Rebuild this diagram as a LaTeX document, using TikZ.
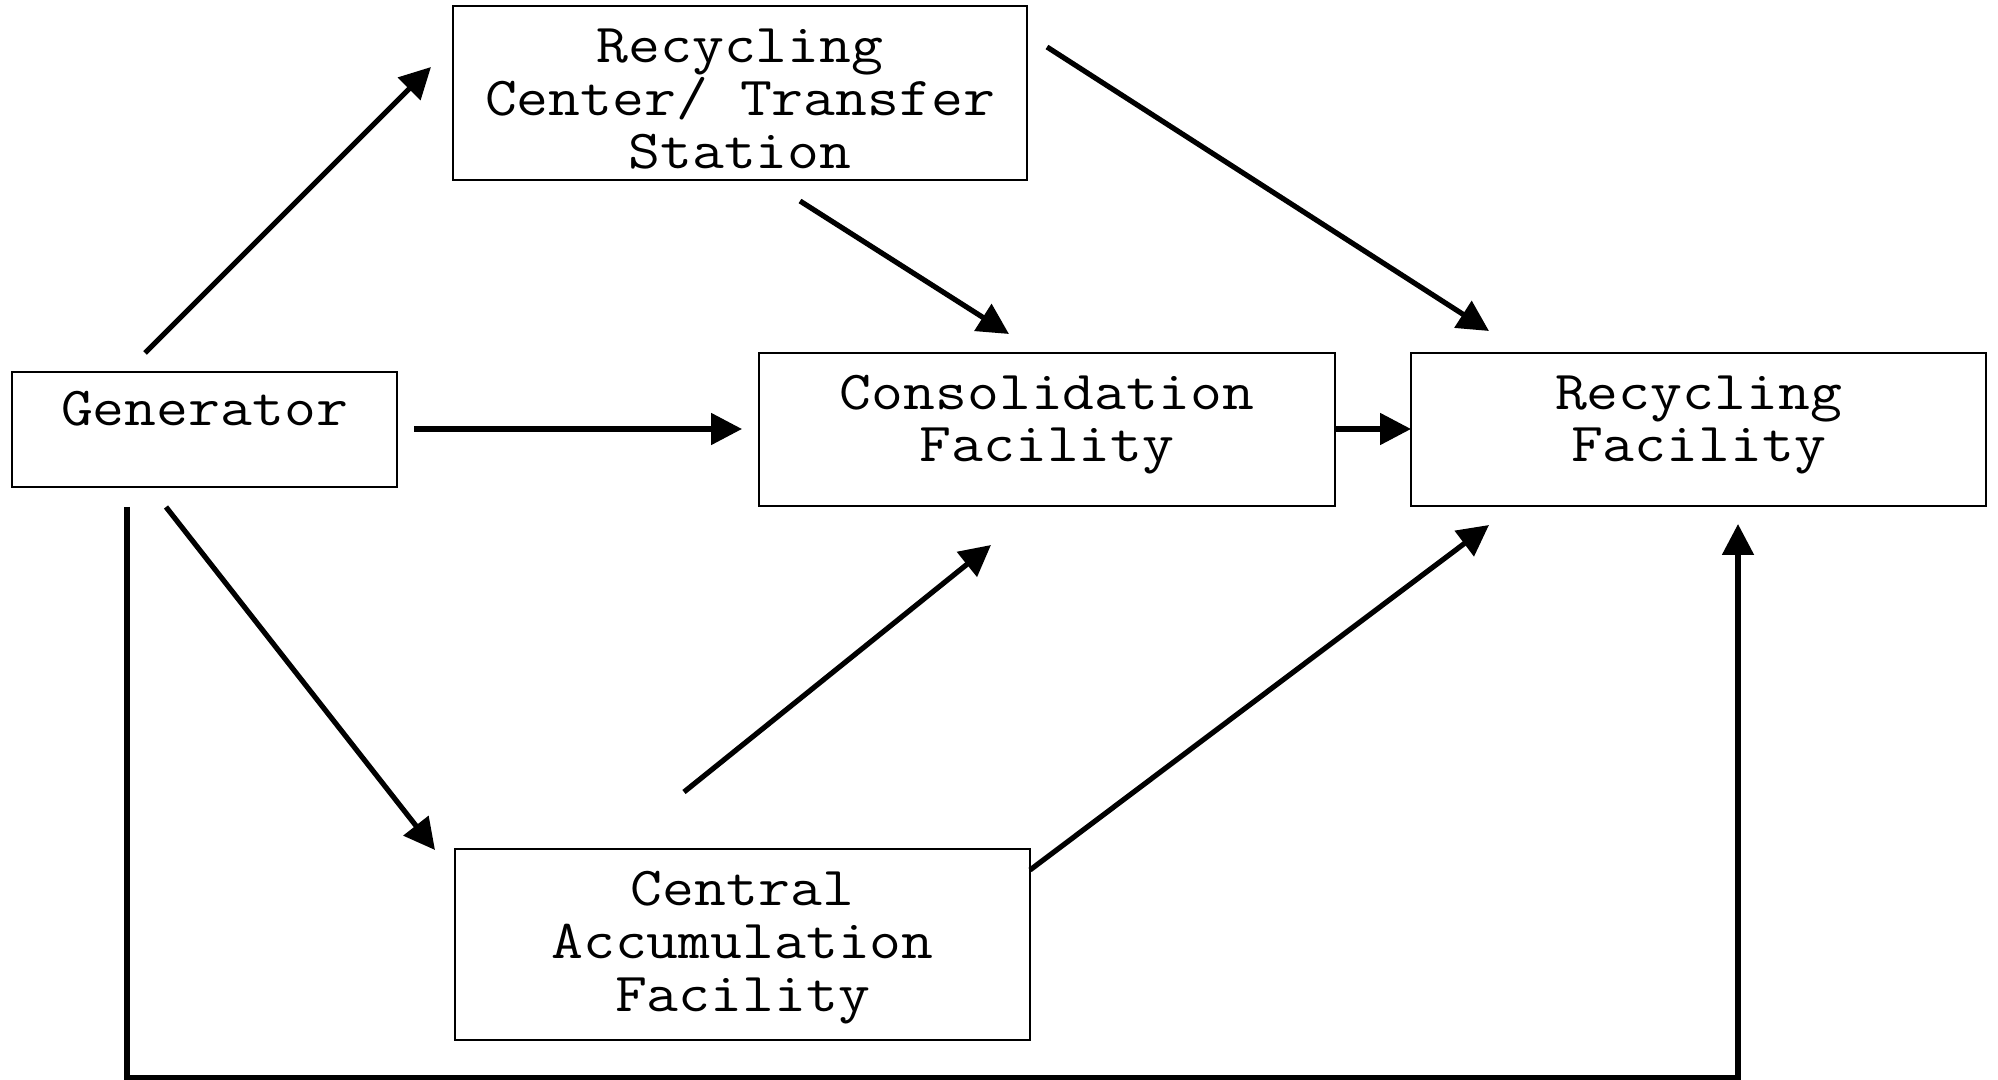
\documentclass[tikz,border=0pt]{standalone}
\usepackage{fontspec}
\usepackage{graphicx}
\usetikzlibrary{arrows.meta}
\newcommand{\wide}[1]{\scalebox{1.125}[1]{#1}}
\begin{document}
\begin{tikzpicture}[x=0.5pt,y=-0.5pt,
  box/.style={draw, line width=1pt, inner sep=0pt, outer sep=0pt},
  txt/.style={anchor=base, inner sep=0pt, font=\ttfamily\fontsize{27.5pt}{27.5pt}\selectfont},
  arr/.style={line width=2.6pt, -{Triangle[length=15.5pt,width=15.5pt]}}]
\useasboundingbox[fill=white] (0,0) rectangle (1998,1080);
% boxes
\node[box, minimum width=192.5pt, minimum height=57.5pt] (gen) at (204.5,429.5) {};
\node[box, minimum width=287pt, minimum height=87pt] (rct) at (740,93) {};
\node[box, minimum width=288pt, minimum height=76.5pt] (cons) at (1047,429.5) {};
\node[box, minimum width=287.5pt, minimum height=76.5pt] (rf) at (1698.5,429.5) {};
\node[box, minimum width=287.5pt, minimum height=95.5pt] (caf) at (742.5,944.5) {};
% texts
\node[txt] (gent) at (204.5,426) {\wide{Generator}};
\node[txt] (rct1) at (740,63) {\wide{Recycling}};
\node[txt] (rct2) at (740,116) {\wide{Center/ Transfer}};
\node[txt] (rct3) at (740,169) {\wide{Station}};
\node[txt] (cons1) at (1047,410) {\wide{Consolidation}};
\node[txt] (cons2) at (1047,462) {\wide{Facility}};
\node[txt] (rf1) at (1698.5,410) {\wide{Recycling}};
\node[txt] (rf2) at (1698.5,462) {\wide{Facility}};
\node[txt] (caf1) at (742.5,905) {\wide{Central}};
\node[txt] (caf2) at (742.5,958) {\wide{Accumulation}};
\node[txt] (caf3) at (742.5,1011) {\wide{Facility}};
% connector end points
\coordinate (genA) at (145,353);   \coordinate (rctA) at (431,67);
\coordinate (rctB) at (1047,47);   \coordinate (rfB) at (1489,331);
\coordinate (rctC) at (800,201);   \coordinate (consC) at (1009,334);
\coordinate (genD) at (414,429);   \coordinate (consD) at (742,429);
\coordinate (genE) at (166,507);   \coordinate (cafE) at (435,850);
\coordinate (cafF) at (684,792);   \coordinate (consF) at (991,545);
\coordinate (cafG) at (1030,870);  \coordinate (rfG) at (1489,525);
\coordinate (genH) at (127,507);   \coordinate (botL) at (127,1078);
\coordinate (botR) at (1738,1078); \coordinate (rfH) at (1738,524);
% connectors
\draw[arr] (genA) -- (rctA);
\draw[arr] (rctB) -- (rfB);
\draw[arr] (rctC) -- (consC);
\draw[arr] (genD) -- (consD);
\draw[arr] (cons.east |- genD) -- (rf.west |- genD);
\draw[arr] (genE) -- (cafE);
\draw[arr] (cafF) -- (consF);
\draw[arr] (cafG) -- (rfG);
\draw[arr] (genH) -- (botL) -- (botR) -- (rfH);
\end{tikzpicture}
\end{document}
